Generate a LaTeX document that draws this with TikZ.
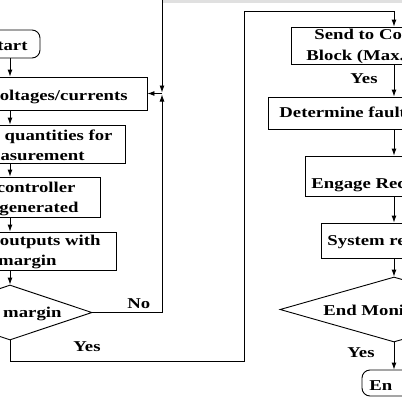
\documentclass[tikz,border=0pt]{standalone}
\usepackage{fontspec}
\setmainfont{Liberation Serif}[FakeStretch=1.25]
\usetikzlibrary{shapes.geometric}
\usetikzlibrary{arrows.meta}

\tikzset{
  box/.style={draw, rectangle, inner sep=0pt},
  term/.style={draw, rectangle, rounded corners=8pt, inner sep=0pt},
  dec/.style={draw, diamond, inner sep=0pt},
  txt/.style={font=\fontsize{15}{20}\selectfont\bfseries, inner sep=0pt},
}

\begin{document}
\begin{tikzpicture}[x=1pt, y=-1pt, line width=0.9pt, >={Latex[length=7pt,width=5pt]}]
    \useasboundingbox (0,0) rectangle (402,402);
    \fill[black!12] (163,0) rectangle (402,2.5);

    % left column
    \node[term, minimum width=60, minimum height=28] (start) at (10,44) {};
    \node[box, minimum width=274, minimum height=33] (meas) at (10,93.5) {};
    \node[box, minimum width=230, minimum height=38] (calc) at (10,144) {};
    \node[box, minimum width=180, minimum height=40] (ctrl) at (10,197) {};
    \node[box, minimum width=212, minimum height=38] (outp) at (10,251) {};
    \node[dec, minimum width=164, minimum height=55] (chk) at (10,312.5) {};

    \node[txt, anchor=base east] (startt) at (28,50) {tart};
    \node[txt, anchor=base east] (meast) at (128,100) {oltages/currents};
    \node[txt, anchor=base east] (calct1) at (113,140) {quantities for};
    \node[txt, anchor=base east] (calct2) at (85,160) {asurement};
    \node[txt, anchor=base east] (ctrlt1) at (76,192) {controller};
    \node[txt, anchor=base east] (ctrlt2) at (79,212) {generated};
    \node[txt, anchor=base east] (outpt1) at (101,245) {outputs with};
    \node[txt, anchor=base east] (outpt2) at (57,265) {margin};
    \node[txt, anchor=base east] (chkt) at (62,317) {margin};
    \node[txt, anchor=base west] (no) at (127,308) {No};
    \node[txt, anchor=base west] (yesl) at (73,351) {Yes};

    % right column
    \node[box, minimum width=206, minimum height=37] (send) at (394,45.5) {};
    \node[box, minimum width=252, minimum height=32] (fault) at (394,113) {};
    \node[box, minimum width=178, minimum height=40] (engage) at (394,176) {};
    \node[box, minimum width=146, minimum height=35] (sysr) at (394,240.5) {};
    \node[dec, minimum width=228, minimum height=65] (endm) at (394,309.5) {};
    \node[term, minimum width=64, minimum height=26] (fin) at (394,383) {};

    \node[txt, anchor=base west] (sendt1) at (314,39) {Send to Co};
    \node[txt, anchor=base west] (sendt2) at (306,60) {Block (Max.};
    \node[txt, anchor=base west] (yesr) at (350,83) {Yes};
    \node[txt, anchor=base west] (faultt) at (279,117) {Determine fault};
    \node[txt, anchor=base west] (engaget) at (311,188) {Engage Rec};
    \node[txt, anchor=base west] (sysrt) at (327,245) {System re};
    \node[txt, anchor=base west] (endmt) at (323,315) {End Moni};
    \node[txt, anchor=base west] (yesb) at (347,357) {Yes};
    \node[txt, anchor=base west] (fint) at (369,390) {En};

    % connectors
    \draw[->] (start) -- (meas);
    \draw[->] (meas) -- (calc);
    \draw[->] (calc) -- (ctrl);
    \draw[->] (ctrl) -- (outp);
    \draw[->] (outp) -- (chk);

    \coordinate (jn) at (162,93.5);
    \coordinate (topin) at (162,0);
    \draw[->, shorten >=1pt] (topin) -- (jn);
    \draw[->, shorten >=1pt] (chk.east) -| (jn);
    \draw[->] (jn) -- (meas.east);

    \coordinate (yc1) at (244,361);
    \coordinate (yc2) at (244,11);
    \draw[->] (chk.south) |- (yc1) -- (yc2) -| (send.north);

    \draw[->] (send) -- (fault);
    \draw[->] (fault) -- (engage);
    \draw[->] (engage) -- (sysr);
    \draw[->] (sysr) -- (endm);
    \draw[->] (endm) -- (fin);
\end{tikzpicture}
\end{document}
